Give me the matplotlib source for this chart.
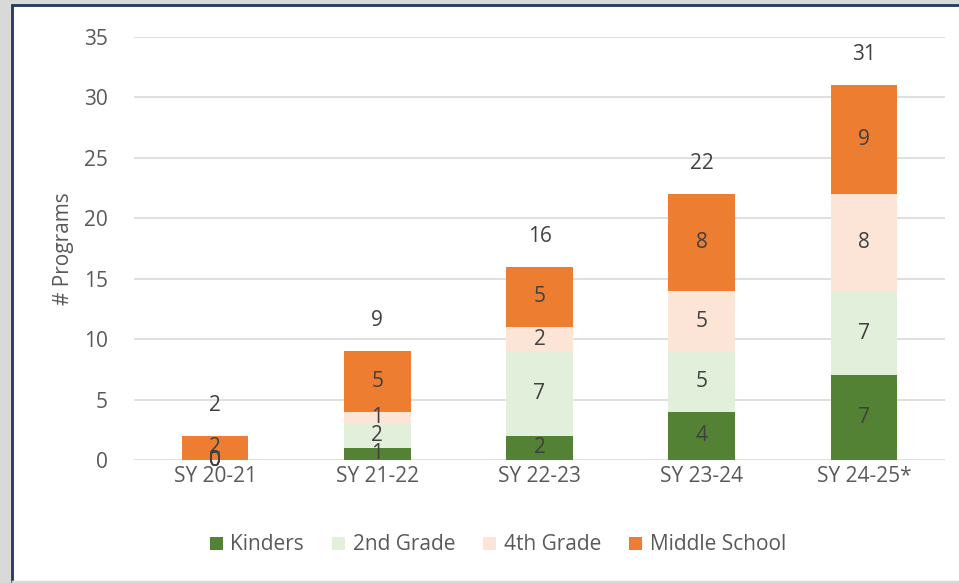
import numpy as np
import matplotlib.pyplot as plt
from matplotlib.patches import Rectangle
from matplotlib.lines import Line2D

# chart data
years = ['SY 20-21', 'SY 21-22', 'SY 22-23', 'SY 23-24', 'SY 24-25*']
kinders = [0, 1, 2, 4, 7]
grade2 = [0, 2, 7, 5, 7]
grade4 = [0, 1, 2, 5, 8]
middle = [2, 5, 5, 8, 9]

series_names = ['Kinders', '2nd Grade', '4th Grade', 'Middle School']
colors = ['#548235', '#E2EFDA', '#FCE4D6', '#ED7D31']

plt.rcParams['font.family'] = ['Open Sans', 'DejaVu Sans']
text_col = '#404040'
fs = 15

fig = plt.figure(figsize=(9.59, 5.83), dpi=100)
fig.patch.set_facecolor('#D9D9D9')

# white panel with navy border (cut off on right and bottom)
fig.patches.append(Rectangle((12 / 959, -0.05), 1.2, 1 - 5 / 583 + 0.05,
                             transform=fig.transFigure, facecolor='white',
                             edgecolor='#1F3864', linewidth=2, zorder=-1))
fig.lines.append(Line2D([13 / 959, 1], [1.5 / 583, 1.5 / 583], transform=fig.transFigure,
                        color='#D9D9D9', linewidth=2.5))

ax = fig.add_axes([134 / 959, 1 - 460 / 583, (945 - 134) / 959, (460 - 37) / 583])
ax.set_facecolor('none')

x = np.arange(len(years))
w = 0.41
bottom = np.zeros(len(years))
for vals, name, c in zip([kinders, grade2, grade4, middle], series_names, colors):
    vals = np.array(vals, dtype=float)
    ax.bar(x, vals, w, bottom=bottom, color=c, label=name, zorder=2)
    for xi, b, v in zip(x, bottom, vals):
        ax.text(xi, b + v / 2, f'{int(v)}', ha='center', va='center',
                fontsize=fs, color=text_col, zorder=3)
    bottom += vals

# totals above each stack
for xi, t in zip(x, bottom):
    ax.annotate(f'{int(t)}', (xi, t), xytext=(0, 22), textcoords='offset points',
                ha='center', va='center', fontsize=fs, color=text_col)

ax.set_xlim(-0.5, len(years) - 0.5)
ax.set_ylim(0, 35)
ax.set_yticks(range(0, 36, 5))
ax.set_xticks(x)
ax.set_xticklabels(years)
ax.grid(axis='y', color='#D9D9D9', linewidth=1.2, zorder=0)
for s in ax.spines.values():
    s.set_visible(False)
ax.tick_params(length=0, labelsize=fs, labelcolor='#595959')
ax.tick_params(axis='y', pad=19)
ax.tick_params(axis='x', pad=4)
ax.set_ylabel('# Programs', fontsize=fs, color='#595959', labelpad=7)

fig.legend(loc='center', bbox_to_anchor=(498 / 959, 1 - 545 / 583), ncol=4, frameon=False,
           fontsize=fs, labelcolor='#595959', handlelength=0.6, handleheight=0.6,
           handletextpad=0.38, columnspacing=1.35)

fig.savefig('out.png', dpi=100, facecolor=fig.get_facecolor())
